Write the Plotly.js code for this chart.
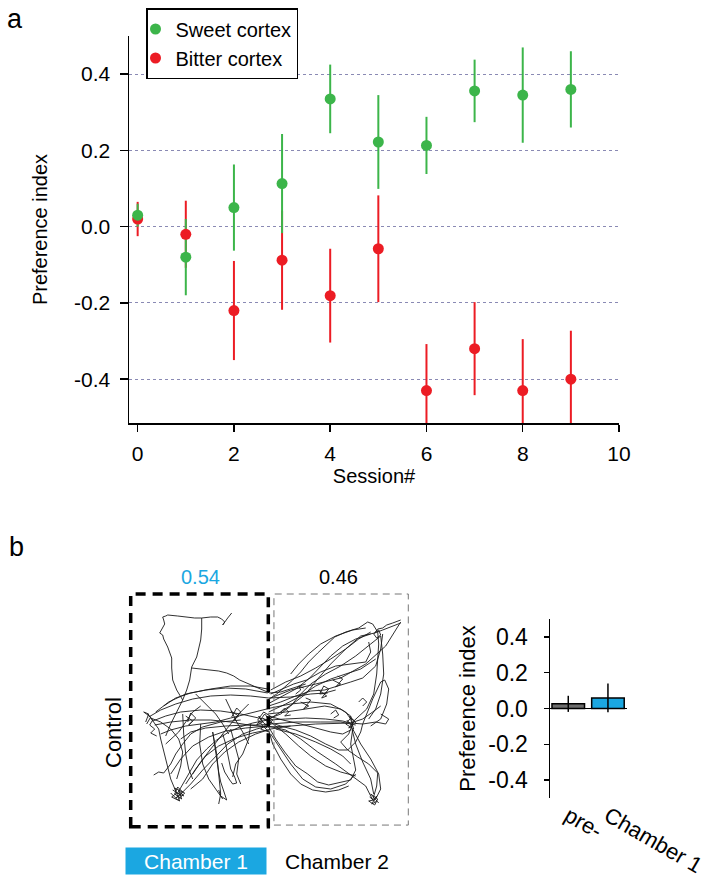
<!DOCTYPE html>
<html>
<head>
<meta charset="utf-8">
<script src="https://cdn.plot.ly/plotly-3.0.1.min.js"></script>
<style>html,body{margin:0;padding:0;background:#fff;}#chart{width:714px;height:884px;}</style>
</head>
<body>
<div id="chart"></div>
<script>
// ---------- Panel a data ----------
const sessions = [0, 1, 2, 3, 4, 5, 6, 7, 8, 9];
const sweetMean = [0.03, -0.08, 0.05, 0.113, 0.335, 0.222, 0.213, 0.356, 0.345, 0.36];
const sweetErr = [0.03, 0.10, 0.113, 0.13, 0.09, 0.123, 0.075, 0.082, 0.125, 0.10];
const bitterMean = [0.02, -0.02, -0.22, -0.088, -0.181, -0.058, -0.43, -0.32, -0.43, -0.40];
const bitterErr = [0.045, 0.088, 0.13, 0.13, 0.123, 0.14, 0.122, 0.122, 0.135, 0.127];
const seriesNames = ["Sweet cortex", "Bitter cortex"];
const xTickVals = [0, 2, 4, 6, 8, 10];
const yTickVals = [-0.4, -0.2, 0.0, 0.2, 0.4];
const yTickText = ["-0.4", "-0.2", "0.0", "0.2", "0.4"];

// ---------- Panel b bar data ----------
const barCats = ["pre-", "Chamber 1"];
const barVals = [0.026, 0.059];
const barErr = [0.045, 0.08];
const chamberFractions = ["0.54", "0.46"];
const chamberLabels = ["Chamber 1", "Chamber 2"];
const rowLabel = "Control";

// ---------- Panel b trajectory (arena units) ----------
const trajectory = [
  [[52,106],[46,96],[42,86],[41,74],[41,64],[38,56],[37,53],[33,45],[32,41],[29,39],[31,35],[34,30],[33,26],[32,23],[35,22],[37,21],[47,22],[56,23],[64,24],[71,24],[80,23],[87,23],[91,25],[94,28],[92,31],[95,27],[97,24],[101,19]],
  [[71,24],[71,35],[70,46],[68,55],[66,63],[61,73],[60,80],[59,86],[56,96],[52,106],[46,118],[40,130],[35,142]],
  [[61,74],[70,75],[79,76],[88,77],[96,79],[103,82],[109,86],[118,90],[126,94],[133,97],[139,99],[150,98],[163,94],[175,90]],
  [[18,123],[30,116],[45,110],[62,105],[80,102],[100,101],[120,102],[138,104],[160,103],[180,100],[194,99],[205,96]],
  [[22,127],[35,122],[50,118],[70,116],[90,117],[110,120],[128,124],[138,126],[155,125],[175,124],[195,125],[212,127],[220,129],[232,130]],
  [[24,131],[40,128],[60,126],[80,126],[100,128],[118,131],[138,133],[160,132],[185,130],[205,129],[220,129]],
  [[47,199],[55,185],[66,166],[76,155],[86,146],[98,138],[109,133],[122,129],[137,126],[150,118],[162,110],[175,100],[187,85],[200,70],[215,55],[230,42],[244,39],[252,36],[262,32],[270,29]],
  [[49,201],[60,190],[72,176],[84,163],[97,150],[112,140],[126,135],[137,132],[155,136],[170,145],[187,158],[205,170],[222,182],[235,192],[242,206]],
  [[45,197],[40,185],[36,169],[33,158],[30,145],[28,135],[24,129],[20,124]],
  [[23,181],[28,178],[33,179],[36,175],[40,170],[45,160],[52,150],[60,140],[72,133],[90,128],[110,126]],
  [[91,169],[94,178],[99,186],[102,190],[106,189],[104,183],[100,175],[98,165],[95,150],[92,140]],
  [[88,196],[90,202],[96,206],[93,198],[90,188],[88,178],[86,165],[84,150],[82,138]],
  [[137,106],[146,100],[154,93],[162,86],[170,78],[178,68],[187,59],[196,50],[204,43],[215,38],[228,34],[237,28],[242,30],[247,38],[248,50],[247,65],[246,80],[243,100],[236,115],[222,128]],
  [[138,112],[150,108],[165,102],[180,97],[194,96],[208,92],[220,88],[232,84],[245,72],[250,55],[252,40]],
  [[137,120],[155,118],[175,115],[194,112],[210,115],[220,122],[222,130],[218,140],[210,148],[217,156],[227,163],[238,170],[247,179],[246,192],[242,206]],
  [[138,133],[145,145],[154,158],[165,172],[177,180],[187,188],[198,191],[212,188],[220,186],[225,176],[222,162],[220,150],[222,135]],
  [[138,128],[150,132],[165,136],[180,142],[195,150],[208,156],[217,156],[225,148],[230,138],[232,130],[236,120],[242,105],[250,88],[254,86]],
  [[244,39],[248,36],[250,41],[246,44],[243,40],[247,35],[252,34],[256,31],[262,29],[270,26]],
  [[140,100],[152,95],[163,90],[176,86],[190,78],[205,72],[222,70],[235,68],[240,58],[238,48]],
  [[30,140],[40,136],[55,132],[70,130],[85,128],[100,124],[115,120],[130,116],[140,114],[160,110],[180,108],[200,110],[215,118],[220,125]],
  [[50,145],[60,138],[75,134],[95,132],[115,131],[130,131],[140,130],[165,128],[190,128],[210,128],[225,131]],
  [[42,196],[50,201],[45,204],[52,198],[47,193],[44,200],[51,205],[48,196],[53,202],[46,199],[41,203],[49,207],[44,194],[54,199],[47,206],[40,199]],
  [[239,203],[245,208],[241,210],[246,202],[243,206],[238,207],[244,211],[247,205],[240,200],[248,209]],
  [[216,126],[222,132],[218,134],[224,127],[220,124],[215,130],[223,135],[219,122],[226,130]],
  [[132,124],[140,130],[135,134],[142,126],[136,122],[139,133],[133,129],[128,122],[132,128],[126,131],[134,120],[140,127],[130,135],[138,138],[127,126],[133,118],[141,123]],
  [[15,128],[18,120],[13,118],[20,123],[16,130]],
  [[82,138],[86,160],[88,180],[90,200],[88,210]],
  [[33,112],[45,104],[60,99],[80,95],[100,92],[120,92],[137,95]],
  [[25,118],[38,108],[55,100],[75,96],[95,94],[115,95],[137,99]],
  [[40,180],[50,165],[62,152],[78,143],[95,137],[115,134],[137,132]],
  [[55,190],[65,175],[75,162],[88,152],[105,144],[122,139],[137,136]],
  [[60,195],[72,185],[82,170],[94,158],[108,148],[125,140],[140,135],[160,132]],
  [[52,120],[53,140],[55,160],[58,175],[62,185]],
  [[70,130],[69,150],[72,170],[78,185],[85,195],[92,205]],
  [[100,135],[104,150],[108,165],[106,180],[110,190]],
  [[120,130],[118,145],[112,160],[105,170],[102,183]],
  [[35,150],[40,145],[48,138],[55,128],[62,118],[70,112]],
  [[17,120],[22,126],[19,131],[24,135],[20,139],[26,142]],
  [[55,122],[62,127],[58,131],[65,124],[60,119],[57,128]],
  [[100,117],[108,122],[103,126],[110,118],[106,114],[101,123]],
  [[137,125],[150,120],[160,112],[170,100],[180,90],[195,80],[210,72],[225,62],[240,50],[250,42]],
  [[138,118],[155,110],[170,102],[185,92],[200,85],[215,80],[230,75],[245,65]],
  [[140,96],[155,88],[170,82],[185,74],[200,65],[215,55],[228,45],[240,38]],
  [[250,42],[252,60],[253,80],[250,100],[245,115],[238,125]],
  [[220,130],[225,150],[232,168],[240,185],[243,200]],
  [[222,135],[230,150],[240,165],[248,180],[250,195],[245,205]],
  [[140,140],[150,155],[160,170],[172,185],[185,193],[200,195],[215,190],[225,180]],
  [[145,135],[165,140],[185,148],[200,155],[212,162],[220,170]],
  [[188,96],[196,102],[191,104],[198,95],[193,92],[189,100],[197,99]],
  [[202,86],[210,90],[205,93],[212,85],[207,82]],
  [[170,108],[178,112],[173,115],[180,106],[175,104]],
  [[160,80],[168,70],[178,60],[190,50],[205,42],[222,36],[235,34]],
  [[140,104],[160,96],[185,90],[210,84],[235,70],[255,52],[270,28]],
  [[220,129],[232,125],[242,118],[250,112]],
  [[137,110],[150,103],[165,95],[178,85],[190,72],[200,62],[212,52],[225,45],[240,40]],
  [[138,122],[152,126],[170,130],[185,134],[200,138],[212,140],[220,136]],
  [[140,128],[155,140],[168,152],[180,162],[195,172],[210,178],[225,182]],
  [[138,136],[142,150],[150,165],[160,180],[170,190],[182,196],[195,198],[208,196],[218,192]],
  [[254,86],[258,95],[256,110],[250,125],[240,132]],
  [[232,130],[245,128],[255,130],[258,125],[250,120]],
  [[20,124],[30,128],[40,135],[48,145],[52,158],[50,172],[46,185]],
  [[65,100],[75,110],[85,120],[92,130],[98,140]],
  [[118,110],[110,118],[100,130],[90,142],[80,155],[70,168],[62,180]],
  [[95,105],[100,115],[106,128],[112,138],[118,150]],
  [[150,118],[154,114],[158,118],[154,122],[160,121]],
  [[165,100],[170,96],[168,92],[173,94]],
  [[228,108],[232,104],[236,108],[232,112]],
  [[200,120],[205,116],[208,121],[203,124]]
];

// ---------- build ----------
const FONT = "Liberation Sans, Arial, Helvetica, sans-serif";
const GREEN = "#3cb54a", RED = "#ec1c24", BLUE = "#1ba7e1", GRAY = "#6e6e6e";
const W = 714, H = 884;
const px = v => v / W;
const py = v => 1 - v / H;

const trajX = [], trajY = [];
trajectory.forEach(seg => { seg.forEach(p => { trajX.push(p[0]); trajY.push(p[1]); }); trajX.push(null); trajY.push(null); });

const data = [
  {x: sessions, y: bitterMean, type: "scatter", mode: "markers", showlegend: false, hoverinfo: "skip",
   marker: {size: 1, opacity: 0, color: RED},
   error_y: {type: "data", array: bitterErr, visible: true, color: RED, thickness: 2, width: 0}},
  {x: sessions, y: sweetMean, type: "scatter", mode: "markers", showlegend: false, hoverinfo: "skip",
   marker: {size: 1, opacity: 0, color: GREEN},
   error_y: {type: "data", array: sweetErr, visible: true, color: GREEN, thickness: 2, width: 0}},
  {x: sessions, y: bitterMean, type: "scatter", mode: "markers", name: seriesNames[1], legendrank: 2,
   marker: {size: 11, color: RED}},
  {x: sessions, y: sweetMean, type: "scatter", mode: "markers", name: seriesNames[0], legendrank: 1,
   marker: {size: 11, color: GREEN}},
  {x: trajX, y: trajY, xaxis: "x2", yaxis: "y2", type: "scatter", mode: "lines", showlegend: false,
   connectgaps: false, line: {color: "#1a1a1a", width: 0.9}, hoverinfo: "skip"},
  {x: barCats, y: barVals, xaxis: "x3", yaxis: "y3", type: "bar", showlegend: false, width: 0.82,
   marker: {color: [GRAY, BLUE], line: {color: "#000", width: 1.5}},
   error_y: {type: "data", array: barErr, visible: true, color: "#000", thickness: 1.5, width: 0}}
];

const ann = (text, x, y, extra) => Object.assign({text: text, xref: "paper", yref: "paper", x: px(x), y: py(y),
  xanchor: "center", yanchor: "middle", showarrow: false}, extra);

const layout = {
  width: W, height: H, autosize: false,
  margin: {l: 0, r: 0, t: 0, b: 0},
  paper_bgcolor: "#fff", plot_bgcolor: "rgba(0,0,0,0)",
  font: {family: FONT, color: "#000", size: 20},
  showlegend: true,
  legend: {x: px(146), y: py(8), xanchor: "left", yanchor: "top", bordercolor: "#000", borderwidth: 1.5,
           bgcolor: "#fff", font: {size: 20, family: FONT}, traceorder: "normal", indentation: -12, itemwidth: 30},
  xaxis: {domain: [px(129), px(619)], range: [-0.18, 10], anchor: "y", showline: true, linecolor: "#000", linewidth: 1.5,
          ticks: "outside", ticklen: 7, tickwidth: 1.5, tickcolor: "#000", tickvals: xTickVals, showgrid: false, zeroline: false,
          tickfont: {size: 21}, ticklabelstandoff: 4,
          title: {text: "Session#", font: {size: 20}, standoff: 4}},
  yaxis: {domain: [py(423), py(36)], range: [-0.515, 0.5], anchor: "x", showline: true, linecolor: "#000", linewidth: 1.5,
          ticks: "outside", ticklen: 8, tickwidth: 1.5, tickcolor: "#000", tickvals: yTickVals, ticktext: yTickText,
          showgrid: true, gridcolor: "#8a8ab4", griddash: "dot", gridwidth: 1, zeroline: false,
          tickfont: {size: 21}, ticklabelstandoff: 5,
          title: {text: "Preference index", font: {size: 20}, standoff: 21}},
  xaxis2: {domain: [px(130.7), px(408.3)], range: [0, 277.6], anchor: "y2", visible: false},
  yaxis2: {domain: [py(826.7), py(594)], range: [232.7, 0], anchor: "x2", visible: false},
  xaxis3: {domain: [px(550), px(627)], range: [-0.46, 1.48], anchor: "y3", type: "category", showline: false, ticks: "",
           tickangle: 30, tickfont: {size: 22}, zeroline: false, showgrid: false},
  yaxis3: {domain: [py(798), py(619)], range: [-0.5, 0.5], anchor: "x3", showline: true, linecolor: "#000", linewidth: 1.5,
           ticks: "outside", ticklen: 5, tickwidth: 1.5, tickcolor: "#000", tickvals: yTickVals, ticktext: yTickText,
           showgrid: false, zeroline: true, zerolinecolor: "#000", zerolinewidth: 1.5,
           tickfont: {size: 23}, ticklabelstandoff: 11,
           title: {text: "Preference index", font: {size: 22}, standoff: 6}},
  shapes: [
    {type: "rect", xref: "x2 domain", yref: "y2 domain", x0: 0, x1: 0.4957, y0: 0, y1: 1,
     line: {color: "#000", width: 3.5, dash: "10px,7px"}},
    {type: "rect", xref: "x2 domain", yref: "y2 domain", x0: 0.516, x1: 1, y0: 0.007, y1: 1,
     line: {color: "#777", width: 1, dash: "7px,5px"}}
  ],
  annotations: [
    ann("a", 15, 19, {font: {size: 27}}),
    ann("b", 16, 547, {font: {size: 27}}),
    ann(chamberFractions[0], 200, 577, {font: {size: 20, color: BLUE}}),
    ann(chamberFractions[1], 338, 577, {font: {size: 20, color: "#000"}}),
    ann(rowLabel, 113, 733, {textangle: -90, font: {size: 22}}),
    ann(chamberLabels[0], 196, 861, {bgcolor: BLUE, width: 138, height: 24, borderpad: 1, font: {size: 21, color: "#fff"}}),
    ann(chamberLabels[1], 337, 861, {font: {size: 21, color: "#000"}})
  ]
};

Plotly.newPlot("chart", data, layout, {staticPlot: true, displayModeBar: false});
</script>
</body>
</html>
